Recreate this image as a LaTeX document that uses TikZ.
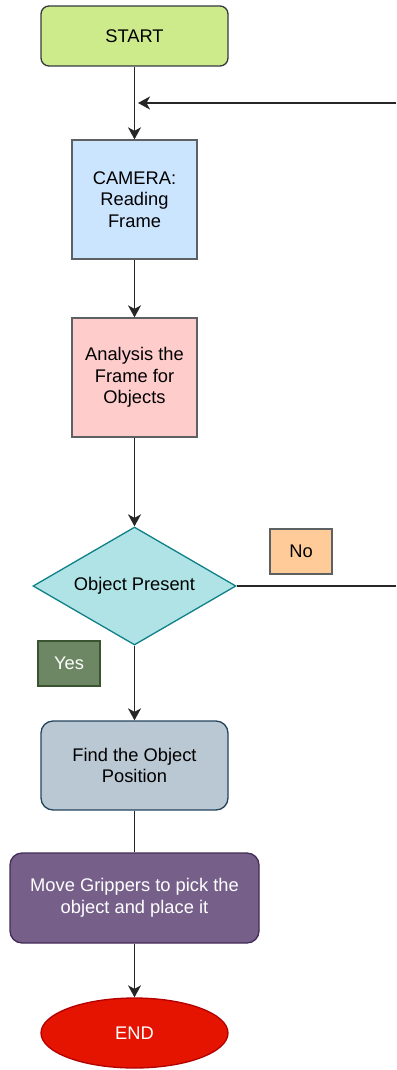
\documentclass[tikz,border=0pt]{standalone}
\usepackage{fontspec}
\setmainfont{Liberation Sans}
\usetikzlibrary{shapes.geometric,arrows.meta}
\definecolor{startfill}{HTML}{CDEB8B}
\definecolor{darkstroke}{HTML}{36393D}
\definecolor{camfill}{HTML}{CCE5FF}
\definecolor{anafill}{HTML}{FFCCCC}
\definecolor{decfill}{HTML}{B0E3E6}
\definecolor{decstroke}{HTML}{0E8088}
\definecolor{nofill}{HTML}{FFCC99}
\definecolor{yesfill}{HTML}{6D8764}
\definecolor{yesstroke}{HTML}{3A5431}
\definecolor{findfill}{HTML}{BAC8D3}
\definecolor{findstroke}{HTML}{23445D}
\definecolor{movefill}{HTML}{76608A}
\definecolor{movestroke}{HTML}{432D57}
\definecolor{endfill}{HTML}{E51400}
\definecolor{endstroke}{HTML}{B20000}
\tikzset{
  base/.style={font=\fontsize{18.3}{21.5}\selectfont, align=center, inner sep=0pt, line width=1.3pt},
  rbox/.style={base, rectangle, rounded corners=10pt, draw=darkstroke},
  sbox/.style={base, rectangle, draw=darkstroke!80},
  conn/.style={line width=1.8pt, draw=black!85},
  arr/.style={conn, -{Stealth[length=12pt,width=13pt,inset=3.5pt]}},
}
\begin{document}
\begin{tikzpicture}[x=1pt,y=-1pt]
\useasboundingbox (0,0) rectangle (396,1070);
\node[rbox, rounded corners=8pt, fill=startfill, minimum width=187pt, minimum height=60pt] (start) at (134.5,36) {START};
\node[sbox, fill=camfill, minimum width=125pt, minimum height=119pt] (cam) at (134.5,199.5) {CAMERA:\\Reading\\Frame};
\node[sbox, fill=anafill, minimum width=125pt, minimum height=119pt] (ana) at (134.5,377.5) {Analysis the\\Frame for\\Objects};
\node[base, diamond, shape aspect=1.72, draw=decstroke, fill=decfill, minimum width=203pt, minimum height=118pt] (dec) at (134.5,586) {Object Present};
\node[sbox, fill=nofill, minimum width=62pt, minimum height=45pt] (no) at (301,551.5) {No};
\node[sbox, draw=yesstroke, fill=yesfill, text=white, minimum width=62pt, minimum height=45pt] (yes) at (69,663.5) {Yes};
\node[rbox, rounded corners=12pt, draw=findstroke, fill=findfill, minimum width=187pt, minimum height=89pt] (find) at (134.5,765.5) {Find the Object\\Position};
\node[rbox, rounded corners=12pt, draw=movestroke, fill=movefill, text=white, minimum width=249pt, minimum height=90pt] (move) at (134.5,898) {Move Grippers to pick the\\object and place it};
\node[base, ellipse, draw=endstroke, fill=endfill, text=white, minimum width=187pt, minimum height=70pt] (end) at (134.5,1033) {END};
\coordinate (fbstart) at (396,103);
\coordinate (fbend) at (138,103);
\coordinate (noend) at (396,586);
\draw[arr] (start) -- (cam);
\draw[arr] (fbstart) -- (fbend);
\draw[arr] (cam) -- (ana);
\draw[arr] (ana) -- (dec);
\draw[conn] (dec.east) -- (noend);
\draw[arr] (dec) -- (find);
\draw[conn] (find) -- (move);
\draw[arr] (move) -- (end);
\end{tikzpicture}
\end{document}
